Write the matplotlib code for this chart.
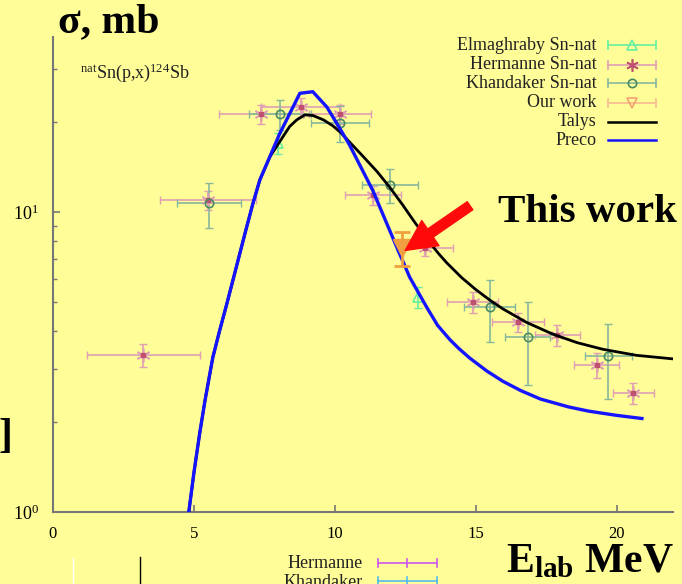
import numpy as np
import matplotlib
matplotlib.use('Agg')
import matplotlib.pyplot as plt
from matplotlib.ticker import LogLocator, NullFormatter

plt.rcParams['font.family'] = ['Liberation Serif', 'DejaVu Serif']
plt.rcParams['mathtext.default'] = 'regular'

# --- data (E in MeV, sigma in mb) ---
herm_x = [3.2, 5.5, 7.38, 8.79, 10.18, 11.35, 13.2, 14.9, 16.5, 17.9, 19.3, 20.6]
herm_y = [3.34, 11.0, 21.2, 22.4, 21.2, 11.4, 7.57, 5.0, 4.29, 3.89, 3.09, 2.49]
herm_xerr = [2.0, 1.7, 1.5, 1.4, 1.1, 1.0, 1.0, 0.9, 0.92, 0.8, 0.8, 0.73]
herm_yerr = [0.3, 0.8, 1.6, 1.6, 1.6, 0.8, 0.45, 0.4, 0.31, 0.3, 0.3, 0.2]

khan_x = [5.53, 8.05, 10.18, 11.95, 15.5, 16.85, 19.7]
khan_y = [10.7, 21.2, 19.8, 12.3, 4.82, 3.83, 3.31]
khan_xerr = [1.13, 1.1, 1.03, 1.0, 0.9, 0.8, 0.83]
khan_yerr = [1.85, 2.4, 2.7, 1.6, 1.13, 1.17, 0.93]

elma_x = [7.97, 12.95]
elma_y = [17.0, 5.2]
elma_yerr = [1.4, 0.42]

our_x = [12.38]
our_y = [7.6]
our_yerr = [1.0]

talys_x = [4.82, 5.0, 5.21, 5.4, 5.67, 5.9, 6.17, 6.4, 6.63, 6.85, 7.09, 7.34, 7.7,
           8.05, 8.4, 8.65, 8.94, 9.22, 9.6, 9.93, 10.2, 10.53, 11.0, 11.5, 11.95,
           12.4, 12.77, 13.1, 13.37, 13.7, 13.97, 14.5, 15.0, 15.5, 15.96, 16.8,
           17.73, 18.6, 19.5, 20.7, 22.0]
talys_y = [1.0, 1.35, 1.84, 2.37, 3.27, 3.98, 4.95, 6.0, 7.28, 8.75, 10.64, 12.8, 15.3,
           17.2, 19.3, 20.3, 21.1, 21.0, 20.3, 19.4, 18.45, 17.1, 15.35, 13.65, 12.1,
           10.6, 9.44, 8.55, 7.9, 7.24, 6.78, 6.05, 5.52, 5.09, 4.76, 4.29,
           3.92, 3.67, 3.49, 3.33, 3.24]

preco_x = [4.82, 5.0, 5.21, 5.4, 5.67, 5.9, 6.17, 6.4, 6.63, 6.85, 7.09, 7.34, 8.05,
           8.76, 9.22, 9.72, 10.18, 10.53, 11.35, 12.2, 12.66, 13.26, 13.65, 14.08,
           14.4, 14.79, 15.4, 15.96, 16.6, 17.3, 18.3, 19.0, 20.0, 20.9]
preco_y = [1.0, 1.35, 1.84, 2.37, 3.27, 3.98, 4.95, 6.0, 7.28, 8.75, 10.64, 12.8, 18.3,
           24.9, 25.2, 22.4, 19.0, 16.7, 11.8, 7.64, 6.06, 4.82, 4.19, 3.76,
           3.51, 3.26, 2.95, 2.73, 2.54, 2.38, 2.24, 2.17, 2.10, 2.05]

legend_labels = ['Elmaghraby Sn-nat', 'Hermanne Sn-nat', 'Khandaker Sn-nat',
                 'Our work', 'Talys', 'Preco']

bg = '#fffd98'
gray = '#777777'
c_herm, c_herm_m = '#e0a0b4', '#c05070'
c_khan, c_khan_m = '#86b89c', '#4a8a62'
c_elma = '#66ee9e'
c_our = '#f0a040'

fig = plt.figure(figsize=(6.82, 5.84), dpi=100)
fig.patch.set_facecolor(bg)
ax = fig.add_axes([0.0777, 0.1233, 0.909, 0.813])
ax.set_facecolor(bg)
ax.set_yscale('log')

ax.errorbar(herm_x, herm_y, xerr=herm_xerr, yerr=herm_yerr, fmt='none',
            ecolor=c_herm, elinewidth=1.2, capsize=3, zorder=2)
ax.plot(herm_x, herm_y, ls='none', marker=(6, 2, 0), ms=10, mec=c_herm, mew=1.2, zorder=3)
ax.plot(herm_x, herm_y, ls='none', marker='s', ms=2.5, color=c_herm_m, zorder=3)

ax.errorbar(khan_x, khan_y, xerr=khan_xerr, yerr=khan_yerr, fmt='none',
            ecolor=c_khan, elinewidth=1.2, capsize=3, zorder=2)
ax.plot(khan_x, khan_y, ls='none', marker='o', ms=6, mfc='none', mec=c_khan_m, mew=1.2, zorder=3)

ax.errorbar(elma_x, elma_y, yerr=elma_yerr, fmt='none', ecolor=c_elma,
            elinewidth=1.2, capsize=3, zorder=2)
ax.plot(elma_x, elma_y, ls='none', marker='^', ms=7, mfc='none', mec=c_elma, mew=1.2, zorder=3)

ax.plot(talys_x, talys_y, color='black', lw=2, zorder=4)
ax.plot(preco_x, preco_y, color='#1414ff', lw=2.4, zorder=4)

ax.errorbar(our_x, our_y, yerr=our_yerr, fmt='v', ms=13, color=c_our,
            ecolor=c_our, elinewidth=2, capsize=6, capthick=2, zorder=5)

ax.annotate('', xy=(12.5, 7.45), xytext=(14.8, 10.5),
            arrowprops=dict(arrowstyle='simple,head_length=1.0,head_width=1.0,tail_width=0.32',
                            color='#ff0a0a', mutation_scale=22, shrinkA=0, shrinkB=0),
            zorder=6)

ax.set_xlim(0, 22)
ax.set_ylim(1, 38.3)
ax.set_xticks([0, 5, 10, 15, 20])
ax.yaxis.set_major_locator(LogLocator(base=10))
ax.yaxis.set_minor_locator(LogLocator(base=10, subs=np.arange(2, 10)))
ax.yaxis.set_minor_formatter(NullFormatter())
ax.tick_params(which='both', direction='in', color=gray, labelsize=12)
ax.tick_params(which='major', length=5, width=1.2)
ax.tick_params(which='minor', length=3, width=1)
ax.tick_params(axis='x', pad=10)
ax.tick_params(axis='y', pad=10, labelsize=13)
for s in ['top', 'right']:
    ax.spines[s].set_visible(False)
for s in ['left', 'bottom']:
    ax.spines[s].set_color(gray)
    ax.spines[s].set_linewidth(1.5)

ax.text(0.044, 0.915, r'$^{nat}$Sn(p,x)$^{124}$Sb', transform=ax.transAxes,
        fontsize=13, color='#222222')

# legend, gnuplot style
x0, x1 = 0.895, 0.9726
xm = (x0 + x1) / 2
ys = [0.983, 0.942, 0.903, 0.862, 0.822, 0.783]
samples = [(c_elma, dict(marker='^', ms=7, mfc='none', mec=c_elma)),
           (c_herm, dict(marker=(6, 2, 0), ms=9, mec=c_herm_m)),
           (c_khan, dict(marker='o', ms=6, mfc='none', mec=c_khan_m)),
           ('#f8bc90', dict(marker='v', ms=7, mfc='none', mec='#f5a070')),
           ('black', None), ('#1414ff', None)]
for lab, y, (col, mk) in zip(legend_labels, ys, samples):
    ax.text(0.877, y, lab, transform=ax.transAxes, ha='right', va='center',
            fontsize=13, color='#222222')
    if mk is None:
        ax.plot([x0, x1], [y, y], transform=ax.transAxes, color=col, lw=1.8, clip_on=False)
    else:
        ax.plot([x0, x1], [y, y], transform=ax.transAxes, color=col, lw=1.2, clip_on=False)
        ax.plot([x0, x0], [y - 0.008, y + 0.008], transform=ax.transAxes, color=col, lw=1.2, clip_on=False)
        ax.plot([x1, x1], [y - 0.008, y + 0.008], transform=ax.transAxes, color=col, lw=1.2, clip_on=False)
        ax.plot([xm], [y], transform=ax.transAxes, ls='none', clip_on=False, mew=1.2, **mk)

# slide texts around the chart
fig.text(58 / 682, 1 - 32 / 584, r'σ, mb', fontsize=30, fontweight='bold', ha='left', va='baseline')
fig.text(677 / 682, 1 - 222 / 584, 'This work', fontsize=29.5, fontweight='bold', ha='right', va='baseline')
fig.text(674 / 682, 1 - 572 / 584, r'E$_{lab}$ MeV', fontsize=30, fontweight='bold', ha='right', va='baseline')
fig.text(12 / 682, 1 - 437 / 584, ']', fontsize=30, fontweight='bold', ha='right', va='center')

# cut-off fragment of another legend at the bottom
fig.text(363 / 682, 1 - 564 / 584, 'Hermanne', fontsize=13, ha='right', va='center', color='#222222')
fig.text(363 / 682, 1 - 574 / 584, 'Khandaker', fontsize=13, ha='right', va='top', color='#222222')
for yy, col in [(563, '#cc55ee'), (581, '#55bbee')]:
    fy = 1 - yy / 584
    fig.add_artist(plt.Line2D([378 / 682, 437 / 682], [fy, fy], color=col, lw=1.2))
    for xx in [378, 407, 437]:
        fig.add_artist(plt.Line2D([xx / 682, xx / 682], [fy - 0.007, fy + 0.007], color=col, lw=1.2))
fig.add_artist(plt.Line2D([73 / 682, 73 / 682], [0, 1 - 558 / 584], color='white', lw=1))
fig.add_artist(plt.Line2D([140 / 682, 140 / 682], [0, 1 - 557 / 584], color='black', lw=1))

fig.savefig('out.png', dpi=100, facecolor=bg)
